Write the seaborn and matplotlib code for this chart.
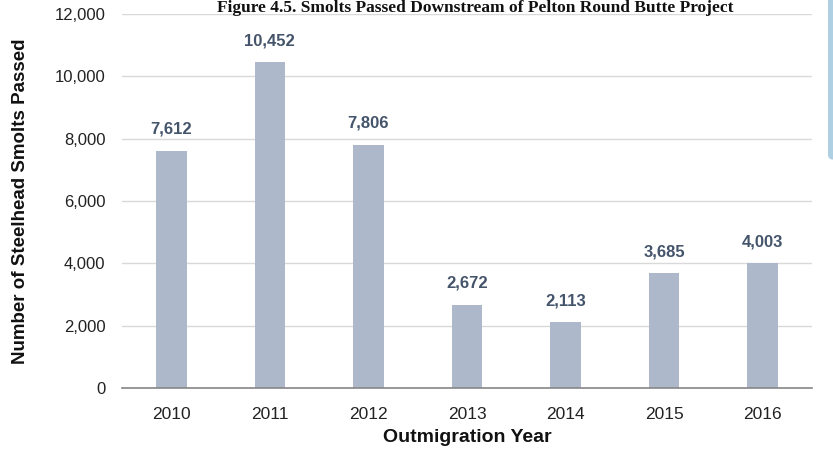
import matplotlib
matplotlib.use("Agg")
import matplotlib.pyplot as plt
import matplotlib.patches as mpatches
import seaborn as sns
import pandas as pd

years = ["2010", "2011", "2012", "2013", "2014", "2015", "2016"]
smolts = [7612, 10452, 7806, 2672, 2113, 3685, 4003]
yticks = [0, 2000, 4000, 6000, 8000, 10000, 12000]

sns.set_theme(style="white")
plt.rcParams['font.family'] = ['Liberation Sans', 'DejaVu Sans']

df = pd.DataFrame({"year": years, "smolts": smolts})

fig = plt.figure(figsize=(8.33, 4.53), dpi=100)
ax = fig.add_axes([122/833, 1 - 388/453, 690/833, (388-14)/453])

sns.barplot(data=df, x="year", y="smolts", color="#ADB9CA", saturation=1,
            width=0.31, ax=ax, edgecolor="none")

ax.set_ylim(0, 12000)
ax.set_xlim(-0.5, 6.5)
ax.set_yticks(yticks)
ax.set_yticklabels([f"{v:,}" for v in yticks], fontsize=12, color="#222222")
ax.tick_params(axis="x", labelsize=12.5, colors="#222222", pad=14, length=0)
ax.tick_params(axis="y", length=0, pad=12)
ax.grid(axis="y", color="#D9D9D9", linewidth=1)
ax.set_axisbelow(True)
for s in ["top", "right", "left"]:
    ax.spines[s].set_visible(False)
ax.spines["bottom"].set_color("#868686")
ax.spines["bottom"].set_linewidth(1.2)

for i, v in enumerate(smolts):
    ax.text(i, v + 450, f"{v:,}", ha="center", va="bottom", fontsize=12,
            fontweight="bold", color="#44546A")

ax.set_xlabel("Outmigration Year", fontsize=14, fontweight="bold", color="#111111", labelpad=5)
ax.set_ylabel("Number of Steelhead Smolts Passed", fontsize=13.5, fontweight="bold",
              color="#111111", labelpad=18)

fig.text(0.57, 0.999, "Figure 4.5. Smolts Passed Downstream of Pelton Round Butte Project",
         ha="center", va="top", fontsize=12.5, fontweight="bold",
         family=["Liberation Serif", "DejaVu Serif"], color="#111111")

fig.patches.append(mpatches.FancyBboxPatch((828/833, 1 - 160/453), 20/833, 170/453,
                   boxstyle="round,pad=0,rounding_size=0.01", transform=fig.transFigure,
                   facecolor="#AFD0E2", edgecolor="none"))

fig.savefig("out.png", dpi=100)
